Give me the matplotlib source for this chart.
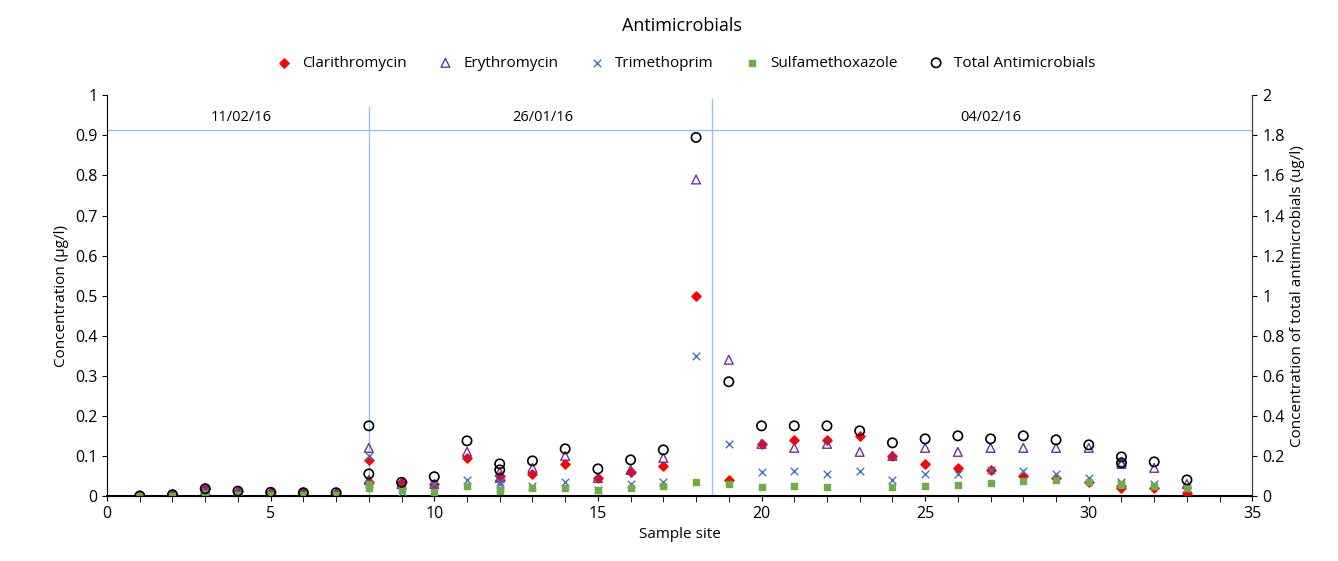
import matplotlib.pyplot as plt
import numpy as np

plt.rcParams['font.family'] = ['Open Sans', 'DejaVu Sans']

sites = [1, 2, 3, 4, 5, 6, 7, 8, 8, 9, 10, 11, 12, 12, 13, 14, 15, 16, 17, 18, 19, 20,
         21, 22, 23, 24, 25, 26, 27, 28, 29, 30, 31, 31, 32, 33]
clarithromycin = [0, 0.004, 0.02, 0.012, 0.01, 0.009, 0.008, 0.09, 0.035, 0.035, 0.03, 0.095,
                  0.05, 0.04, 0.055, 0.08, 0.045, 0.06, 0.075, 0.5, 0.04, 0.13, 0.14, 0.14,
                  0.15, 0.1, 0.08, 0.07, 0.065, 0.05, 0.045, 0.035, 0.02, 0.025, 0.02, 0.008]
erythromycin = [0, 0.003, 0.015, 0.01, 0.008, 0.007, 0.006, 0.12, 0.04, 0.03, 0.03, 0.11,
                0.06, 0.045, 0.07, 0.1, 0.045, 0.065, 0.095, 0.79, 0.34, 0.13, 0.12, 0.13,
                0.11, 0.1, 0.12, 0.11, 0.12, 0.12, 0.12, 0.12, 0.08, 0.085, 0.07, 0.03]
trimethoprim = [0, 0.002, 0.013, 0.008, 0.006, 0.005, 0.004, 0.1, 0.03, 0.01, 0.03, 0.04,
                0.035, 0.03, 0.025, 0.035, 0.015, 0.03, 0.035, 0.35, 0.13, 0.06, 0.062, 0.055,
                0.062, 0.04, 0.055, 0.055, 0.065, 0.062, 0.055, 0.045, 0.035, 0.03, 0.03, 0.02]
sulfamethoxazole = [0, 0.001, 0.005, 0.003, 0.002, 0.002, 0.002, 0.03, 0.02, 0.015, 0.01, 0.025,
                    0.015, 0.013, 0.02, 0.02, 0.015, 0.02, 0.025, 0.035, 0.03, 0.022, 0.024, 0.022,
                    np.nan, 0.022, 0.025, 0.027, 0.033, 0.037, 0.04, 0.035, 0.03, 0.028, 0.025, 0.02]
total = [0, 0.006, 0.036, 0.024, 0.018, 0.016, 0.016, 0.35, 0.11, 0.068, 0.096, 0.275,
         0.16, 0.13, 0.175, 0.235, 0.135, 0.18, 0.23, 1.79, 0.57, 0.35, 0.35, 0.35,
         0.325, 0.265, 0.285, 0.3, 0.285, 0.3, 0.28, 0.255, 0.195, 0.165, 0.17, 0.08]

period_labels = ['11/02/16', '26/01/16', '04/02/16']
period_x = [4.1, 13.3, 27.0]

fig, ax = plt.subplots(figsize=(13.38, 5.61), dpi=100)
ax2 = ax.twinx()

ax.scatter(sites, clarithromycin, marker='D', s=22, color='#ff0000', label='Clarithromycin', zorder=3)
ax.scatter(sites, erythromycin, marker='^', s=40, facecolors='none', edgecolors='#7030a0',
           linewidths=1, label='Erythromycin', zorder=3)
ax.scatter(sites, trimethoprim, marker='x', s=30, color='#4472c4', linewidths=1, label='Trimethoprim', zorder=3)
ax.scatter(sites, sulfamethoxazole, marker='s', s=22, color='#70ad47', label='Sulfamethoxazole', zorder=3)
ax2.scatter(sites, total, marker='o', s=45, facecolors='none', edgecolors='black',
            linewidths=1.2, label='Total Antimicrobials', zorder=3)

ax.axhline(0.913, color='#9dc3e6', lw=1)
ax.plot([8, 8], [0, 0.97], color='#9dc3e6', lw=1)
ax.plot([18.5, 18.5], [0, 0.99], color='#9dc3e6', lw=1)
for lbl, x in zip(period_labels, period_x):
    ax.text(x, 0.945, lbl, ha='center', va='center', fontsize=10.5)

ax.set_xlim(0, 35)
ax.set_ylim(0, 1)
ax2.set_ylim(0, 2)
ax.set_xticks(np.arange(0, 36, 5))
ax.set_xticks(np.arange(0, 36, 1), minor=True)
ax.set_yticks(np.arange(0, 1.01, 0.1))
ax.set_yticklabels(['0', '0.1', '0.2', '0.3', '0.4', '0.5', '0.6', '0.7', '0.8', '0.9', '1'])
ax2.set_yticks(np.arange(0, 2.01, 0.2))
ax2.set_yticklabels(['0', '0.2', '0.4', '0.6', '0.8', '1', '1.2', '1.4', '1.6', '1.8', '2'])
ax.tick_params(axis='x', which='both', direction='out', labelsize=11.5)
ax.tick_params(axis='x', which='minor', length=4)
ax.tick_params(axis='y', labelsize=11.5)
ax2.tick_params(axis='y', labelsize=11.5)
for a in (ax, ax2):
    a.spines['top'].set_visible(False)
    a.spines['left'].set_visible(False)
ax.spines['left'].set_visible(True)
ax.spines['bottom'].set_linewidth(1.5)
ax2.spines['right'].set_color('#404040')

ax.set_xlabel('Sample site', fontsize=11)
ax.set_ylabel('Concentration (µg/l)', fontsize=11)
ax2.set_ylabel('Concentration of total antimicrobials (ug/l)', fontsize=11)

h1, l1 = ax.get_legend_handles_labels()
h2, l2 = ax2.get_legend_handles_labels()
fig.legend(h1 + h2, l1 + l2, loc='upper center', bbox_to_anchor=(0.51, 0.925), ncol=5,
           frameon=False, fontsize=11, handletextpad=0.2, columnspacing=1.5)
fig.suptitle('Antimicrobials', x=0.51, y=0.97, fontsize=13)

fig.subplots_adjust(left=0.08, right=0.936, top=0.83, bottom=0.116)
fig.savefig('out.png')
